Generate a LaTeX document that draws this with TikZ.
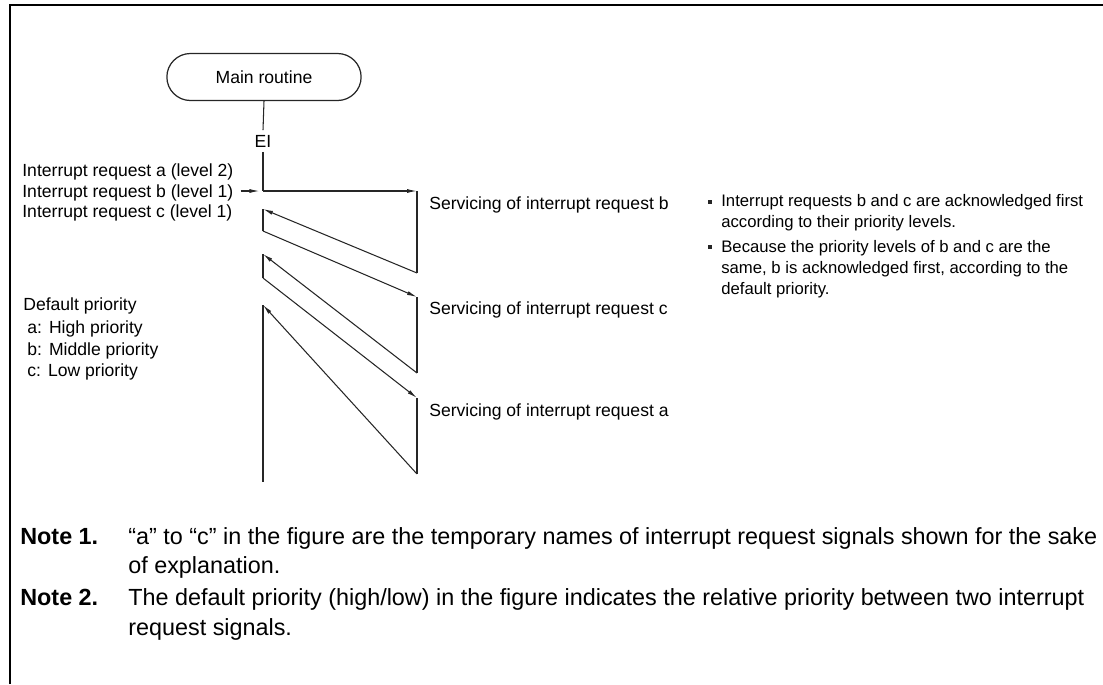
\documentclass[tikz,border=0pt]{standalone}
\usepackage{fontspec}
\setmainfont{Liberation Sans}
\usetikzlibrary{arrows.meta, positioning, shapes.misc}

\begin{document}
\begin{tikzpicture}[
  x=0.02cm, y=-0.02cm,
  flow/.style={draw=black!85, line width=0.6pt},
  arrow/.style={flow, -{Latex[length=0.2cm, width=0.08cm]}},
  label/.style={inner sep=0pt, anchor=base west, font=\fontsize{10}{12}\selectfont},
  sidenote/.style={inner sep=0pt, anchor=west, align=left, font=\fontsize{9.5}{12}\selectfont},
  notetext/.style={inner sep=0pt, anchor=base west, font=\fontsize{13.3}{16}\selectfont},
  notehead/.style={notetext, font=\fontsize{13.3}{16}\selectfont\bfseries},
  bulletmark/.style={fill=black!85, inner sep=0pt, minimum size=0.09cm},
  terminal/.style={rounded rectangle, draw=black!85, line width=0.7pt, minimum width=4.12cm, minimum height=0.94cm, font=\fontsize{10}{12}\selectfont}
]
\useasboundingbox (0,0) rectangle (1103,684);
\draw[line width=0.04cm] (10,684) -- (10,5) -- (1103,5);
\node[terminal] (main) at (264,77) {Main routine};
\node[inner sep=0pt, minimum height=0.42cm, font=\fontsize{10}{12}\selectfont] (ei) at (263,141) {EI};
\coordinate (p0) at (263,191);
\coordinate (b1) at (417,191);
\coordinate (b2) at (417,273);
\coordinate (c0) at (263,209);
\coordinate (c1) at (263,231);
\coordinate (c2) at (417,297);
\coordinate (c3) at (417,373);
\coordinate (a0) at (263,254);
\coordinate (a1) at (263,278);
\coordinate (a2) at (417,398);
\coordinate (a3) at (417,474);
\coordinate (m0) at (263,305);
\coordinate (m1) at (263,482);
\draw[flow] (main.south) -- (ei.north);
\draw[flow] (ei.south) -- (p0);
\foreach \u/\v in {b1/b2,c0/c1,c2/c3,a0/a1,a2/a3,m0/m1} \draw[flow] (\u) -- (\v);
\foreach \u/\v in {p0/b1,b2/c0,c1/c2,c3/a0,a1/a2,a3/m0} \draw[arrow] (\u) -- (\v);
\node[label] (reqa) at (22,176) {Interrupt request a (level 2)};
\node[label] (reqb) at (22,197) {Interrupt request b (level 1)};
\node[label] (reqc) at (22,217) {Interrupt request c (level 1)};
\draw[arrow] (reqb.east |- p0) ++(4pt,0) -- ([xshift=-2pt]p0);
\node[label] (deflt) at (23,310) {Default priority};
\node[label] (prioa) at (27,333) {a:\hspace{4pt}High priority};
\node[label] (priob) at (27,355) {b:\hspace{4pt}Middle priority};
\node[label] (prioc) at (27,376) {c:\hspace{4pt}Low priority};
\node[label] (servb) at (429,209) {Servicing of interrupt request b};
\node[label] (servc) at (429,314) {Servicing of interrupt request c};
\node[label] (serva) at (429,416) {Servicing of interrupt request a};
\node[bulletmark] (bul1) at (710,202) {};
\node[sidenote] (side1) at (721,213) {Interrupt requests b and c are acknowledged first\\according to their priority levels.};
\node[bulletmark] (bul2) at (710,247) {};
\node[sidenote] (side2) at (721,269) {Because the priority levels of b and c are the\\same, b is acknowledged first, according to the\\default priority.};
\node[notehead] (note1) at (20,544) {Note 1.};
\node[notetext] (note1a) at (128,544) {“a” to “c” in the figure are the temporary names of interrupt request signals shown for the sake};
\node[notetext] (note1b) at (128,573) {of explanation.};
\node[notehead] (note2) at (20,605) {Note 2.};
\node[notetext] (note2a) at (128,605) {The default priority (high/low) in the figure indicates the relative priority between two interrupt};
\node[notetext] (note2b) at (128,635) {request signals.};
\end{tikzpicture}
\end{document}
